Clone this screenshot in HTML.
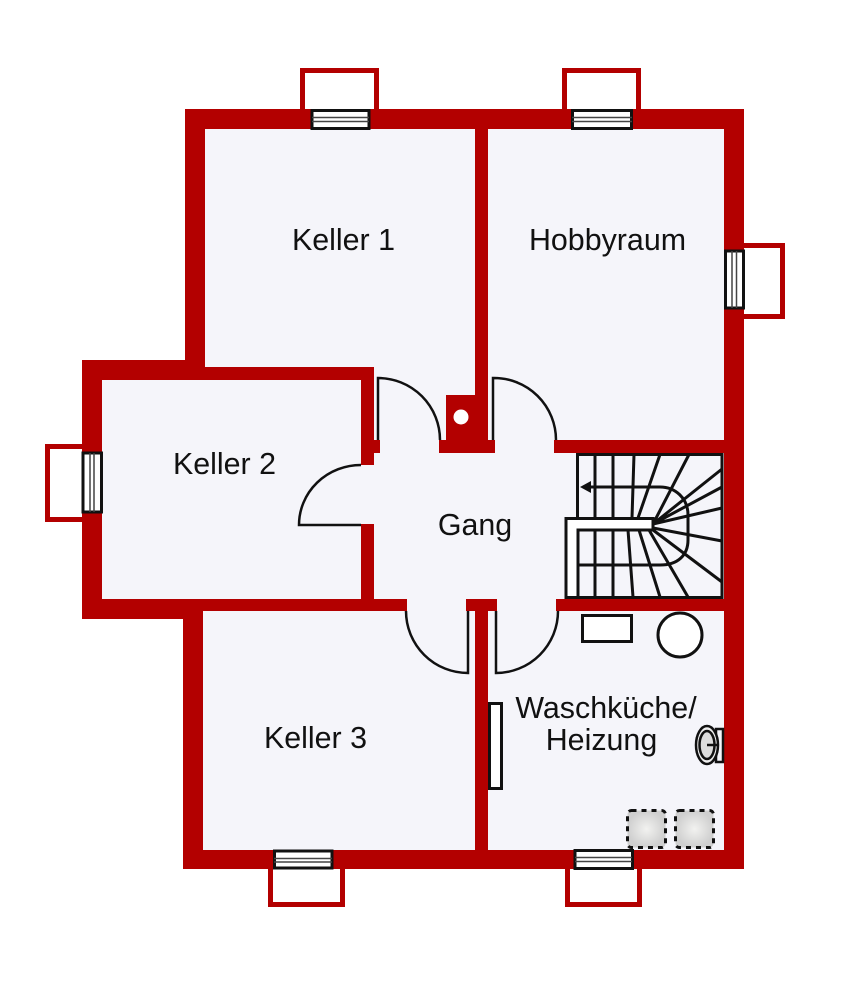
<!DOCTYPE html>
<html>
<head>
<meta charset="utf-8">
<style>
html,body{margin:0;padding:0;background:#fff}
svg{display:block}
text{font-family:"Liberation Sans",sans-serif;font-size:30.4px;fill:#111;text-anchor:middle}
</style>
</head>
<body>
<svg width="854" height="1000" viewBox="0 0 854 1000" xmlns="http://www.w3.org/2000/svg">
<defs>
<radialGradient id="g"><stop offset="0" stop-color="#f2f2f0"/><stop offset="1" stop-color="#cfcfcf"/></radialGradient>
</defs>
<rect width="854" height="1000" fill="#fff"/>

<!-- exterior window boxes -->
<g fill="#fff" stroke="#b30000" stroke-width="5">
<rect x="302.500" y="70.500" width="74" height="45"/>
<rect x="564.500" y="70.500" width="74" height="45"/>
<rect x="738" y="245.500" width="44.500" height="71"/>
<rect x="47.500" y="446.500" width="40" height="73"/>
<rect x="270.500" y="860" width="72" height="44.500"/>
<rect x="567.500" y="860" width="72" height="44.500"/>
</g>

<!-- floor and outer walls -->
<path d="M185 109H744V869H183V619H82V360H185Z" fill="#b30000"/>
<!-- rooms -->
<g fill="#f5f5fa">
<rect x="205" y="129" width="270" height="238"/>
<rect x="488" y="129" width="236" height="311"/>
<rect x="102" y="380" width="259" height="219"/>
<rect x="374" y="380" width="350" height="219"/>
<rect x="361" y="465" width="14" height="59"/>
<rect x="203" y="611" width="272" height="239"/>
<rect x="488" y="611" width="236" height="239"/>
<rect x="374" y="367" width="101" height="30"/>
<rect x="488" y="367" width="236" height="30"/>
<rect x="407" y="599" width="59" height="13"/>
<rect x="497" y="599" width="59" height="13"/>
</g>
<!-- interior walls -->
<g fill="#b30000">
<rect x="475" y="129" width="13" height="324"/>
<rect x="446" y="395" width="42" height="58"/>
<rect x="439" y="440" width="56" height="13"/>
<rect x="361" y="367" width="13" height="98"/>
<rect x="374" y="440" width="6" height="13"/>
<rect x="361" y="524" width="13" height="87"/>
<rect x="102" y="367" width="272" height="13"/>
<rect x="554" y="440" width="170" height="13"/>
<rect x="203" y="599" width="204" height="12"/>
<rect x="466" y="599" width="31" height="12"/>
<rect x="556" y="599" width="168" height="12"/>
<rect x="475" y="611" width="13" height="239"/>
</g>
<circle cx="461" cy="417" r="7.500" fill="#fff"/>

<!-- doors -->
<g fill="none" stroke="#111" stroke-width="2.500">
<path d="M378 440V378A62 62 0 0 1 440 440"/>
<path d="M493 440V378A62 62 0 0 1 556 440"/>
<path d="M361 465A62 60 0 0 0 299 525H361"/>
<path d="M468 611V673A62 62 0 0 1 406 611"/>
<path d="M496 611V673A62 62 0 0 0 558 611"/>
</g>

<!-- stairs -->
<rect x="577" y="454.500" width="145" height="143" fill="#f5f5fa"/>
<g fill="none" stroke="#111" stroke-width="3">
<rect x="577.500" y="454.500" width="144.500" height="143"/>
<path d="M595 454.500V518M613 454.500V518M634 454.500L632 518M660 454.500L638 518M689 454.500L653 524M722 469L653 524M722 487L653 524M722 508L653 524M722 541L653 528M722 582L653 530M688 597L649 530M660 597L639 530M633 597L628 530M613 530V597M595 530V597"/>
<path d="M577 565H660C678 565 688 555 688 540V515C688 498 675 487 660 487H588"/>
</g>
<path d="M566 518.500H653V530H578V597.500H566Z" fill="#fff" stroke="#111" stroke-width="3"/>
<path d="M580 487L591 481V493Z" fill="#111"/>

<!-- windows -->
<g fill="#fff" stroke="#111" stroke-width="3">
<rect x="312" y="110.500" width="57" height="18"/>
<rect x="572.500" y="110.500" width="59" height="18"/>
<rect x="725.500" y="251" width="18" height="57"/>
<rect x="83" y="453" width="18.500" height="59"/>
<rect x="274.500" y="851" width="57.500" height="17"/>
<rect x="575" y="850.500" width="57.500" height="18"/>
</g>
<g fill="none" stroke="#444" stroke-width="1.500">
<path d="M312 117.500H369M312 121.500H369M572 117.500H632M572 121.500H632M732 251V308M736.500 251V308M90 453V512M94 453V512M274 858.500H332M274 862H332M575 857.500H632M575 861.500H632"/>
</g>

<!-- fixtures -->
<g fill="#fff" stroke="#111" stroke-width="3">
<rect x="582.500" y="615.500" width="49" height="26"/>
<circle cx="680" cy="635" r="22"/>
<rect x="489.500" y="703.500" width="12" height="85"/>
</g>
<g fill="#eee" stroke="#111" stroke-width="2.500">
<rect x="716" y="729" width="7" height="33" fill="#f5f5fa"/>
<ellipse cx="707" cy="745" rx="11" ry="19"/>
<ellipse cx="707" cy="745" rx="7.500" ry="14" fill="#ddd"/>
<path d="M707 745H718" fill="none"/>
</g>
<g fill="url(#g)" stroke="#111" stroke-width="3" stroke-dasharray="5 5">
<rect x="627.500" y="810.500" width="38" height="37" rx="4"/>
<rect x="675.500" y="810.500" width="38" height="37" rx="4"/>
</g>

<!-- labels -->
<text x="343.500" y="250">Keller 1</text>
<text x="607.500" y="250">Hobbyraum</text>
<text x="224.500" y="474">Keller 2</text>
<text x="475" y="535">Gang</text>
<text x="315.500" y="748">Keller 3</text>
<text x="606" y="718">Waschküche/</text>
<text x="601.500" y="750">Heizung</text>
</svg>
</body>
</html>
